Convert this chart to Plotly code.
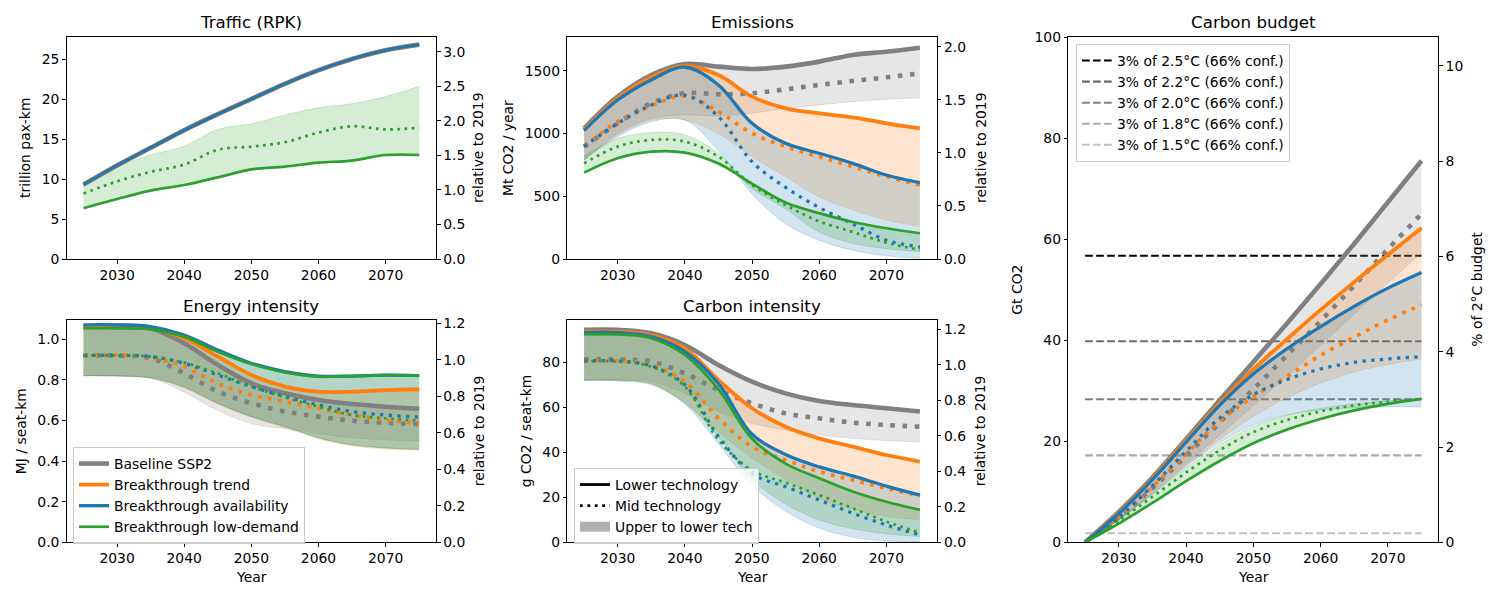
import plotly.graph_objects as go

W, H = 1500, 600
YEARS = [2025, 2030, 2035, 2040, 2045, 2050, 2055, 2060, 2065, 2070, 2075]
SCEN = ["base", "trend", "avail", "low"]
NAMES = {"base": "Baseline SSP2", "trend": "Breakthrough trend",
         "avail": "Breakthrough availability", "low": "Breakthrough low-demand"}
COLORS = {"base": (128, 128, 128), "trend": (255, 127, 14), "avail": (31, 119, 180), "low": (44, 160, 44)}
WIDTHS = {"base": 4.6, "trend": 3.8, "avail": 3.3, "low": 2.7}

# ---------------- Traffic (trillion pax-km) ----------------
traffic_lower = {
    "base":  [9.3, 11.7, 13.9, 16.1, 18.1, 20.0, 21.9, 23.6, 25.0, 26.1, 26.8],
    "trend": [9.3, 11.7, 13.9, 16.1, 18.1, 20.0, 21.9, 23.6, 25.0, 26.1, 26.8],
    "avail": [9.3, 11.7, 13.9, 16.1, 18.1, 20.0, 21.9, 23.6, 25.0, 26.1, 26.8],
    "low":   [6.35, 7.5, 8.55, 9.25, 10.2, 11.2, 11.55, 12.05, 12.3, 13.0, 13.0],
}
traffic_mid = {"low": [8.2, 9.7, 10.9, 11.8, 13.65, 14.05, 14.6, 15.8, 16.6, 16.2, 16.4]}
traffic_upper = {"low": [9.2, 11.5, 13.0, 14.1, 16.2, 16.9, 18.0, 18.9, 19.4, 20.3, 21.6]}

# ---------------- Emissions (Mt CO2 / year) ----------------
emis_lower = {
    "base":  [1040, 1293, 1465, 1553, 1532, 1513, 1532, 1572, 1625, 1651, 1683],
    "trend": [1027, 1280, 1447, 1537, 1465, 1293, 1200, 1160, 1128, 1081, 1040],
    "avail": [1022, 1266, 1426, 1527, 1386, 1081, 921, 842, 762, 669, 608],
    "low":   [688, 802, 855, 847, 760, 600, 450, 365, 295, 245, 205],
}
emis_mid = {
    "base":  [895, 1080, 1240, 1320, 1312, 1320, 1351, 1386, 1418, 1447, 1479],
    "trend": [895, 1094, 1219, 1298, 1173, 1001, 895, 815, 735, 656, 589],
    "avail": [895, 1080, 1227, 1306, 1134, 775, 570, 410, 280, 150, 95],
    "low":   [762, 895, 948, 935, 815, 589, 430, 300, 215, 130, 72],
}
emis_upper = {
    "base":  [789, 1001, 1120, 1147, 1139, 1160, 1200, 1227, 1253, 1272, 1285],
    "trend": [789, 988, 1107, 1107, 1001, 815, 656, 496, 390, 311, 258],
    "avail": [789, 974, 1094, 1107, 860, 520, 280, 150, 70, 25, 5],
    "low":   [820, 961, 1006, 988, 842, 560, 400, 215, 125, 82, 58],
}

# ---------------- Energy intensity (MJ / seat-km) ----------------
energy_lower = {
    "base":  [1.062, 1.068, 1.054, 0.980, 0.874, 0.783, 0.734, 0.701, 0.681, 0.668, 0.658],
    "trend": [1.066, 1.067, 1.057, 1.005, 0.915, 0.824, 0.767, 0.742, 0.742, 0.750, 0.754],
    "avail": [1.071, 1.071, 1.062, 1.021, 0.947, 0.882, 0.841, 0.819, 0.819, 0.823, 0.821],
    "low":   [1.054, 1.054, 1.049, 1.013, 0.939, 0.878, 0.837, 0.816, 0.819, 0.823, 0.821],
}
energy_mid = {
    "base":  [0.920, 0.920, 0.906, 0.832, 0.742, 0.685, 0.644, 0.619, 0.599, 0.589, 0.581],
    "trend": [0.920, 0.923, 0.910, 0.865, 0.783, 0.726, 0.693, 0.660, 0.627, 0.603, 0.586],
    "avail": [0.920, 0.920, 0.915, 0.882, 0.824, 0.767, 0.718, 0.677, 0.644, 0.627, 0.616],
    "low":   [0.920, 0.920, 0.915, 0.885, 0.832, 0.767, 0.714, 0.668, 0.627, 0.611, 0.599],
}
energy_upper = {
    "base":  [0.821, 0.819, 0.808, 0.740, 0.650, 0.585, 0.560, 0.535, 0.515, 0.505, 0.500],
    "trend": [0.821, 0.819, 0.810, 0.760, 0.680, 0.615, 0.565, 0.510, 0.475, 0.460, 0.455],
    "avail": [0.821, 0.819, 0.810, 0.765, 0.685, 0.620, 0.570, 0.515, 0.480, 0.465, 0.460],
    "low":   [0.821, 0.819, 0.810, 0.765, 0.685, 0.620, 0.570, 0.515, 0.480, 0.465, 0.455],
}

# ---------------- Carbon intensity (g CO2 / seat-km) ----------------
ci_lower = {
    "base":  [94.4, 94.4, 92.9, 87.7, 78.8, 71.4, 66.2, 62.8, 61.0, 59.6, 58.1],
    "trend": [93.6, 93.6, 92.1, 86.2, 72.1, 59.6, 51.4, 46.2, 42.5, 38.8, 35.9],
    "avail": [93.2, 93.2, 91.4, 84.7, 70.5, 48.0, 39.0, 33.5, 29.5, 25.0, 21.0],
    "low":   [92.4, 92.4, 90.7, 83.3, 68.0, 46.0, 35.0, 28.5, 22.6, 18.0, 14.4],
}
ci_mid = {
    "base":  [81.3, 81.3, 80.3, 75.1, 67.7, 61.8, 57.3, 55.1, 53.2, 52.1, 51.4],
    "trend": [80.6, 80.6, 78.8, 71.4, 55.1, 42.5, 36.6, 31.4, 27.7, 24.0, 20.7],
    "avail": [80.6, 80.6, 78.4, 69.9, 47.0, 30.5, 24.7, 18.8, 12.9, 7.7, 3.3],
    "low":   [80.3, 80.3, 78.1, 69.2, 45.5, 32.0, 26.5, 21.0, 15.1, 9.2, 4.3],
}
ci_upper = {
    "base":  [72.1, 72.1, 71.4, 66.2, 58.1, 52.9, 49.9, 47.7, 46.2, 45.2, 44.6],
    "trend": [72.1, 72.0, 70.5, 62.0, 49.0, 37.6, 28.0, 19.8, 14.7, 11.5, 10.0],
    "avail": [71.8, 71.7, 70.0, 61.4, 43.8, 25.4, 13.9, 6.3, 2.3, 0.6, 0.2],
    "low":   [72.0, 72.0, 70.5, 62.0, 47.0, 28.0, 17.0, 10.0, 6.0, 3.8, 2.5],
}

# ---------------- Carbon budget (Gt CO2, cumulative) ----------------
budget_lower = {
    "base":  [0, 6.0, 12.8, 20.4, 28.1, 35.7, 43.3, 51.1, 59.1, 67.3, 75.5],
    "trend": [0, 5.8, 12.6, 20.1, 27.5, 34.2, 40.2, 46.0, 51.5, 56.9, 62.2],
    "avail": [0, 5.7, 12.4, 19.8, 27.1, 33.3, 38.3, 42.7, 46.7, 50.3, 53.4],
    "low":   [0, 3.7, 7.8, 12.1, 16.1, 19.6, 22.3, 24.4, 26.1, 27.4, 28.4],
}
budget_mid = {
    "base":  [0, 4.9, 10.7, 17.1, 23.7, 30.3, 37.0, 43.8, 50.8, 58.0, 65.0],
    "trend": [0, 5.0, 11.0, 17.5, 24.0, 28.8, 32.8, 37.0, 40.6, 44.0, 47.0],
    "avail": [0, 5.0, 11.2, 18.0, 24.6, 29.2, 32.2, 34.3, 35.6, 36.3, 36.7],
    "low":   [0, 4.3, 9.0, 13.8, 18.2, 21.8, 24.2, 25.9, 27.1, 27.8, 28.3],
}
budget_upper = {
    "base":  [0, 4.5, 9.8, 15.5, 21.2, 27.0, 32.9, 39.0, 45.2, 51.3, 57.3],
    "trend": [0, 4.4, 9.6, 15.1, 20.4, 24.9, 28.6, 31.5, 33.7, 35.2, 36.3],
    "avail": [0, 4.4, 9.5, 14.9, 19.7, 23.2, 25.2, 26.2, 26.6, 26.8, 26.8],
    "low":   [0, 4.6, 9.6, 14.6, 19.3, 22.9, 25.1, 26.5, 27.4, 28.0, 28.4],
}
budget_lines = [56.7, 39.8, 28.3, 17.2, 1.8]
budget_line_labels = ["3% of 2.5°C (66% conf.)", "3% of 2.2°C (66% conf.)", "3% of 2.0°C (66% conf.)",
                      "3% of 1.8°C (66% conf.)", "3% of 1.5°C (66% conf.)"]
budget_line_colors = ["#000000", "#696969", "#808080", "#a9a9a9", "#c0c0c0"]

# reference values for the right-hand axes
ref_2019 = {"traffic": 8.637, "emis": 845.6, "energy": 0.899, "ci": 78.9, "budget": 9.43}

FONT = "DejaVu Sans"
TICK = 13.9


def rgba(c, a):
    return f"rgba({c[0]},{c[1]},{c[2]},{a})"


def fmt(v, d):
    return f"{v:.{d}f}" if d > 0 else f"{int(round(v))}"


panels = [
    dict(title="Traffic (RPK)", box=(66.7, 37, 436, 259), ymax=27.75, yt=[0, 5, 10, 15, 20, 25], yd=0,
         rref="traffic", rt=[0, 0.5, 1, 1.5, 2, 2.5, 3.0], rd=1, ylab="trillion pax-km", rlab="relative to 2019",
         data=(traffic_lower, traffic_mid, traffic_upper), xlab=False, ylab_x=25, rlab_x=478),
    dict(title="Emissions", box=(567.3, 37, 936.7, 259), ymax=1768, yt=[0, 500, 1000, 1500], yd=0,
         rref="emis", rt=[0, 0.5, 1, 1.5, 2.0], rd=1, ylab="Mt CO2 / year", rlab="relative to 2019",
         data=(emis_lower, emis_mid, emis_upper), xlab=False, ylab_x=508, rlab_x=981),
    dict(title="Energy intensity", box=(66.7, 320, 436, 542.3), ymax=1.095, yt=[0, 0.2, 0.4, 0.6, 0.8, 1.0], yd=1,
         rref="energy", rt=[0, 0.2, 0.4, 0.6, 0.8, 1.0, 1.2], rd=1, ylab="MJ / seat-km", rlab="relative to 2019",
         data=(energy_lower, energy_mid, energy_upper), xlab=True, ylab_x=21, rlab_x=479),
    dict(title="Carbon intensity", box=(567.3, 320, 936.7, 542.3), ymax=98.8, yt=[0, 20, 40, 60, 80], yd=0,
         rref="ci", rt=[0, 0.2, 0.4, 0.6, 0.8, 1.0, 1.2], rd=1, ylab="g CO2 / seat-km", rlab="relative to 2019",
         data=(ci_lower, ci_mid, ci_upper), xlab=True, ylab_x=526, rlab_x=980),
    dict(title="Carbon budget", box=(1068.3, 37, 1438.3, 542.3), ymax=100, yt=[0, 20, 40, 60, 80, 100], yd=0,
         rref="budget", rt=[0, 2, 4, 6, 8, 10], rd=0, ylab="Gt CO2", rlab="% of 2°C budget",
         data=(budget_lower, budget_mid, budget_upper), xlab=True, ylab_x=1017, rlab_x=1477),
]

fig = go.Figure()
layout = {}
annotations = []

for i, p in enumerate(panels, start=1):
    x0, y0, x1, y1 = p["box"]
    xa = "x" if i == 1 else f"x{i}"
    yl_n, yr_n = 2 * i - 1, 2 * i
    yl = "y" if yl_n == 1 else f"y{yl_n}"
    yr = f"y{yr_n}"
    xkey = "xaxis" if i == 1 else f"xaxis{i}"
    ylkey = "yaxis" if yl_n == 1 else f"yaxis{yl_n}"
    yrkey = f"yaxis{yr_n}"
    common = dict(ticks="outside", ticklen=3.5, tickwidth=1, tickcolor="black", showgrid=False,
                  zeroline=False, tickfont=dict(family=FONT, size=TICK, color="black"), automargin=False)
    layout[xkey] = dict(domain=[x0 / W, x1 / W], anchor=yl, range=[2022.5, 2077.5],
                        tickvals=[2030, 2040, 2050, 2060, 2070], showline=True, linecolor="black",
                        linewidth=1, mirror=True, **common)
    layout[ylkey] = dict(domain=[1 - y1 / H, 1 - y0 / H], anchor=xa, range=[0, p["ymax"]],
                         tickvals=p["yt"], ticktext=[fmt(v, p["yd"]) for v in p["yt"]],
                         showline=True, linecolor="black", linewidth=1, mirror=True, **common)
    rmax = p["ymax"] / ref_2019[p["rref"]]
    layout[yrkey] = dict(overlaying=yl, anchor=xa, side="right", range=[0, rmax],
                         tickvals=p["rt"], ticktext=[fmt(v, p["rd"]) for v in p["rt"]],
                         showline=False, **common)
    # invisible trace to activate right axis
    fig.add_scatter(x=[YEARS[0]], y=[0], xaxis=xa, yaxis=yr, mode="markers",
                    marker=dict(opacity=0), showlegend=False, hoverinfo="skip")

    lower, mid, upper = p["data"]

    # budget threshold lines
    if p["rref"] == "budget":
        for val, lab, col in zip(budget_lines, budget_line_labels, budget_line_colors):
            fig.add_scatter(x=[YEARS[0], YEARS[-1]], y=[val, val], xaxis=xa, yaxis=yl, mode="lines",
                            line=dict(color=col, width=2.1, dash="7.7px,3.3px"), name=lab,
                            legend="legend3", showlegend=True, hoverinfo="skip")

    # bands: upper tech to lower tech
    for s in SCEN:
        if s in upper:
            c = COLORS[s]
            fig.add_scatter(x=YEARS, y=upper[s], xaxis=xa, yaxis=yl, mode="lines",
                            line=dict(width=0.8, color=rgba(c, 0.25), shape="spline"),
                            showlegend=False, hoverinfo="skip")
            fig.add_scatter(x=YEARS, y=lower[s], xaxis=xa, yaxis=yl, mode="lines", fill="tonexty",
                            fillcolor=rgba(c, 0.2),
                            line=dict(width=0.8, color=rgba(c, 0.25), shape="spline"),
                            showlegend=False, hoverinfo="skip")
    # lines
    for s in SCEN:
        c = COLORS[s]
        w = WIDTHS[s]
        fig.add_scatter(x=YEARS, y=lower[s], xaxis=xa, yaxis=yl, mode="lines",
                        line=dict(color=rgba(c, 1), width=w, shape="spline"),
                        showlegend=False, hoverinfo="skip")
        if s in mid:
            fig.add_scatter(x=YEARS, y=mid[s], xaxis=xa, yaxis=yl, mode="lines",
                            line=dict(color=rgba(c, 1), width=w, shape="spline",
                                      dash=f"{w:.1f}px,{1.65 * w:.1f}px"),
                            showlegend=False, hoverinfo="skip")

    # titles and labels
    cx = (x0 + x1) / 2
    cy = (y0 + y1) / 2
    annotations.append(dict(text=p["title"], x=cx / W, y=1 - (y0 - 14.5) / H, xref="paper", yref="paper",
                            showarrow=False, xanchor="center", yanchor="middle",
                            font=dict(family=FONT, size=16.7, color="black")))
    annotations.append(dict(text=p["ylab"], x=p["ylab_x"] / W, y=1 - cy / H, xref="paper", yref="paper",
                            showarrow=False, textangle=-90, xanchor="center", yanchor="middle",
                            font=dict(family=FONT, size=TICK, color="black")))
    annotations.append(dict(text=p["rlab"], x=p["rlab_x"] / W, y=1 - cy / H, xref="paper", yref="paper",
                            showarrow=False, textangle=-90, xanchor="center", yanchor="middle",
                            font=dict(family=FONT, size=TICK, color="black")))
    if p["xlab"]:
        annotations.append(dict(text="Year", x=cx / W, y=1 - 576.7 / H, xref="paper", yref="paper",
                                showarrow=False, xanchor="center", yanchor="middle",
                                font=dict(family=FONT, size=TICK, color="black")))

# legend entries: scenarios
for s in SCEN:
    fig.add_scatter(x=[None], y=[None], xaxis="x3", yaxis="y5", mode="lines",
                    line=dict(color=rgba(COLORS[s], 1), width=WIDTHS[s]), name=NAMES[s],
                    legend="legend", showlegend=True)
# legend entries: technology levels
fig.add_scatter(x=[None], y=[None], xaxis="x4", yaxis="y7", mode="lines",
                line=dict(color="black", width=2.8), name="Lower technology", legend="legend2")
fig.add_scatter(x=[None], y=[None], xaxis="x4", yaxis="y7", mode="lines",
                line=dict(color="black", width=2.8, dash="2.8px,4.6px"), name="Mid technology", legend="legend2")
fig.add_scatter(x=[None], y=[None], xaxis="x4", yaxis="y7", mode="lines",
                line=dict(color="#b0b0b0", width=10), name="Upper to lower tech", legend="legend2")

leg_common = dict(xanchor="left", yanchor="top", bgcolor="rgba(255,255,255,0.8)", bordercolor="#cccccc",
                  borderwidth=1, font=dict(family=FONT, size=TICK, color="black"), tracegroupgap=0,
                  itemwidth=30, traceorder="normal")
layout["legend"] = dict(x=73 / W, y=1 - 447 / H, **leg_common)
layout["legend2"] = dict(x=574 / W, y=1 - 468 / H, **leg_common)
layout["legend3"] = dict(x=1076 / W, y=1 - 44 / H, **leg_common)

fig.update_layout(width=W, height=H, margin=dict(l=0, r=0, t=0, b=0), paper_bgcolor="white",
                  plot_bgcolor="white", font=dict(family=FONT, color="black"),
                  annotations=annotations, **layout)
fig.write_html("out.html")
